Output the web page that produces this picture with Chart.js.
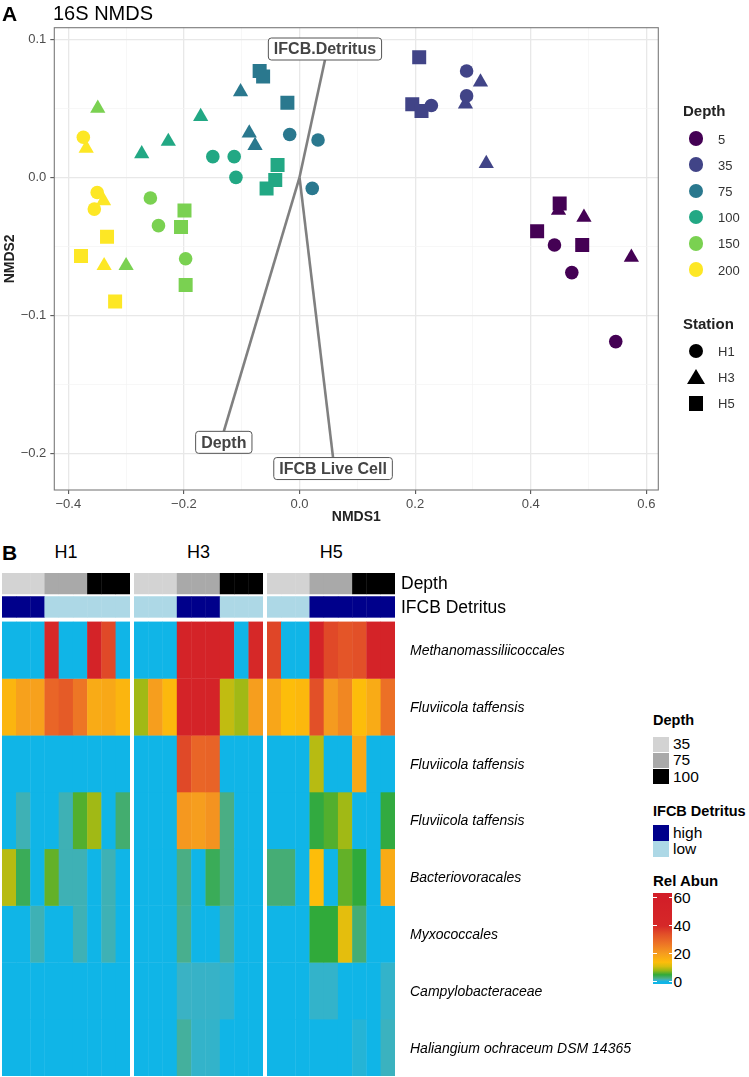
<!DOCTYPE html>
<html>
<head>
<meta charset="utf-8">
<script src="https://cdn.jsdelivr.net/npm/chart.js@4.4.0/dist/chart.umd.min.js"></script>
<style>
  body { margin: 0; background: #fff; }
  #wrap { position: relative; width: 749px; height: 1077px; overflow: hidden; background: #fff;
          font-family: "Liberation Sans", Arial, Helvetica, sans-serif; }
  canvas { position: absolute; }
  .txt { position: absolute; white-space: nowrap; line-height: 1; color: #000; }
  .shape { position: absolute; }
</style>
</head>
<body>
<div id="wrap">
  <canvas id="nmds" width="749" height="530" style="left:0;top:0"></canvas>
  <canvas id="hmH1" width="128" height="503" style="left:2px;top:573px"></canvas>
  <canvas id="hmH3" width="129" height="503" style="left:134px;top:573px"></canvas>
  <canvas id="hmH5" width="382" height="503" style="left:267px;top:573px"></canvas>
</div>
<script>
// ---------- Panel A : 16S NMDS ----------
const depthLevels = [5, 35, 75, 100, 150, 200];
const stationNames = ['H1', 'H3', 'H5'];

const h1Depth = [5, 5, 5, 35, 35, 35, 75, 75, 75, 100, 100, 100, 150, 150, 150, 200, 200, 200];
const h1NMDS1 = [0.441, 0.471, 0.547, 0.289, 0.289, 0.228, -0.017, 0.032, 0.022, -0.150, -0.113, -0.110, -0.258, -0.244, -0.197, -0.374, -0.350, -0.355];
const h1NMDS2 = [-0.049, -0.069, -0.119, 0.077, 0.059, 0.052, 0.031, 0.027, -0.008, 0.015, 0.015, 0.000, -0.015, -0.035, -0.059, 0.029, -0.011, -0.023];

const h3Depth = [5, 5, 5, 35, 35, 35, 75, 75, 75, 100, 100, 100, 150, 150, 200, 200, 200];
const h3NMDS1 = [0.448, 0.492, 0.574, 0.313, 0.287, 0.323, -0.102, -0.087, -0.077, -0.171, -0.227, -0.273, -0.349, -0.300, -0.369, -0.339, -0.338];
const h3NMDS2 = [-0.024, -0.029, -0.058, 0.069, 0.053, 0.010, 0.062, 0.032, 0.023, 0.044, 0.026, 0.017, 0.050, -0.064, 0.021, -0.017, -0.064];

const h5Depth = [5, 5, 5, 35, 35, 35, 75, 75, 75, 100, 100, 100, 150, 150, 150, 200, 200, 200];
const h5NMDS1 = [0.411, 0.450, 0.489, 0.207, 0.195, 0.211, -0.069, -0.063, -0.021, -0.038, -0.042, -0.057, -0.199, -0.205, -0.197, -0.333, -0.378, -0.319];
const h5NMDS2 = [-0.039, -0.019, -0.049, 0.087, 0.053, 0.048, 0.077, 0.073, 0.054, 0.009, -0.002, -0.008, -0.024, -0.036, -0.078, -0.043, -0.057, -0.090];

// envfit vectors
const envNames = ['IFCB.Detritus', 'Depth', 'IFCB Live Cell'];
const envNMDS1 = [0.044, -0.131, 0.058];
const envNMDS2 = [0.085, -0.184, -0.203];

const xTickVals = [-0.4, -0.3, -0.2, -0.1, 0, 0.1, 0.2, 0.3, 0.4, 0.5, 0.6];
const yTickVals = [-0.2, -0.15, -0.1, -0.05, 0, 0.05, 0.1];

// ---------- Panel B : heatmap ----------
const sampleDepth = [35, 35, 35, 75, 75, 75, 100, 100, 100];
const taxa = ['Methanomassiliicoccales', 'Fluviicola taffensis', 'Fluviicola taffensis', 'Fluviicola taffensis',
              'Bacteriovoracales', 'Myxococcales', 'Campylobacteraceae', 'Haliangium ochraceum DSM 14365'];
const annotNames = ['Depth', 'IFCB Detritus'];

const h1Detritus = ['high', 'high', 'high', 'low', 'low', 'low', 'low', 'low', 'low'];
const h3Detritus = ['low', 'low', 'low', 'high', 'high', 'high', 'low', 'low', 'low'];
const h5Detritus = ['low', 'low', 'low', 'high', 'high', 'high', 'high', 'high', 'high'];

const h1Abun = [
  [0, 0, 0, 41, 0, 0, 50, 35, 0],
  [15.5, 19.5, 19.5, 30, 32, 27, 17.5, 18, 15.5],
  [0, 0, 0, 0, 0, 0, 0, 0, 0],
  [0, 1.5, 0, 0, 1.5, 6, 8.5, 0, 3.2],
  [9.5, 4, 0, 6.5, 1.5, 1.5, 0, 1.5, 0],
  [0, 0, 1.5, 0, 0, 1.5, 0, 1.5, 0],
  [0, 0, 0, 0, 0, 0, 0, 0, 0],
  [0, 0, 0, 0, 0, 0, 0, 0, 0]
];
const h3Abun = [
  [0, 0, 0, 50, 50, 50, 49, 0, 41],
  [8.5, 20, 15, 50, 50, 50, 10, 8.5, 20],
  [0, 0, 0, 35, 30, 30.5, 0, 0, 0],
  [0, 0, 0, 21, 20, 22, 2.5, 0, 0],
  [0, 0, 0, 2.5, 0, 4, 2.5, 0, 0],
  [0, 0, 0, 2.3, 0, 0, 1.8, 0, 0],
  [0, 0, 0, 1.2, 1.1, 1.1, 0.9, 0, 0],
  [0, 0, 0, 2, 1, 1, 0, 0, 0]
];
const h5Abun = [
  [35.5, 0, 0, 50, 35, 33, 34, 50, 50],
  [18.5, 14, 15, 34, 20.5, 24, 14, 17.5, 28],
  [0, 0, 0, 9.5, 0, 0, 18, 0, 0],
  [0, 0, 0, 4.8, 6, 8.5, 0, 0, 4.8],
  [3, 3, 0, 14, 0, 6.5, 5, 0, 17.5],
  [0, 0, 0, 5, 5, 12, 3, 0, 0],
  [0, 0, 0, 1, 1, 0, 0, 0, 1],
  [0, 0, 0, 0, 0, 0, 0.6, 0, 1.3]
];
const abunTicks = [0, 20, 40, 60];

// ---------- styles ----------
const FONT = '"Liberation Sans", Arial, Helvetica, sans-serif';
Chart.defaults.font.family = FONT;

const depthColors = ['#440154', '#414487', '#2A788E', '#22A884', '#7AD151', '#FDE725'];
const stationShapes = ['circle', 'triangle', 'rect'];
const shapeRadius = { circle: 6.8, triangle: 8.8, rect: 9.9 };
const depthGrays = { 35: '#d3d3d3', 75: '#a9a9a9', 100: '#000000' };
const detritusColors = { high: '#00008b', low: '#add8e6' };
const abunStops = [
  [0, [16, 181, 231]], [1.2, [58, 178, 196]], [2.5, [74, 174, 132]], [5, [48, 170, 58]],
  [8, [150, 184, 22]], [11, [215, 190, 14]], [14, [253, 189, 10]], [20, [246, 158, 30]],
  [28, [236, 112, 38]], [34, [226, 80, 40]], [40, [214, 40, 40]], [60, [210, 30, 40]]
];

function abunColor(v) {
  if (v <= abunStops[0][0]) return 'rgb(' + abunStops[0][1].join(',') + ')';
  for (let i = 1; i < abunStops.length; i++) {
    const [v1, c1] = abunStops[i];
    if (v <= v1) {
      const [v0, c0] = abunStops[i - 1];
      const t = (v - v0) / (v1 - v0);
      return 'rgb(' + c0.map((c, k) => Math.round(c + (c1[k] - c) * t)).join(',') + ')';
    }
  }
  return 'rgb(' + abunStops[abunStops.length - 1][1].join(',') + ')';
}

const isMajorX = v => Math.abs(Math.round(v * 10)) % 2 === 0;
const isMajorY = v => Math.abs(v * 10 - Math.round(v * 10)) < 1e-6;
const fmt = v => (v < -1e-9 ? '\u2212' : '') + Math.abs(v).toFixed(1);

// ---------- scatter ----------
function stationPoints(depth, x, y) {
  return x.map((v, i) => ({ x: v, y: y[i], d: depth[i] }));
}
const stationData = [[h1Depth, h1NMDS1, h1NMDS2], [h3Depth, h3NMDS1, h3NMDS2], [h5Depth, h5NMDS1, h5NMDS2]];

const pointSets = stationData.map((s, k) => ({
  label: stationNames[k],
  data: stationPoints(s[0], s[1], s[2]),
  pointStyle: stationShapes[k],
  pointRadius: shapeRadius[stationShapes[k]],
  pointHoverRadius: shapeRadius[stationShapes[k]],
  pointBackgroundColor: ctx => ctx.raw ? depthColors[depthLevels.indexOf(ctx.raw.d)] : '#000',
  pointBorderColor: ctx => ctx.raw ? depthColors[depthLevels.indexOf(ctx.raw.d)] : '#000',
  pointBorderWidth: 0,
  showLine: false,
  order: 2
}));

const envLines = envNames.map((n, i) => ({
  label: n,
  data: [{ x: 0, y: 0 }, { x: envNMDS1[i], y: envNMDS2[i] }],
  showLine: true,
  borderColor: '#808080',
  borderWidth: 2.6,
  pointRadius: 0,
  fill: false,
  order: 1
}));

const envLabelPlugin = {
  id: 'envLabels',
  afterDatasetsDraw(chart) {
    const { ctx, scales: { x, y } } = chart;
    ctx.save();
    ctx.font = 'bold 16px ' + FONT;
    ctx.textAlign = 'center';
    ctx.textBaseline = 'middle';
    envNames.forEach((name, i) => {
      const px = x.getPixelForValue(envNMDS1[i]);
      const py = y.getPixelForValue(envNMDS2[i]);
      const w = ctx.measureText(name).width + 11, h = 22;
      const top = envNMDS2[i] > 0 ? py - h : py;
      const left = px - w / 2;
      ctx.beginPath();
      ctx.roundRect(left, top, w, h, 3);
      ctx.fillStyle = '#fff';
      ctx.fill();
      ctx.lineWidth = 1;
      ctx.strokeStyle = '#555';
      ctx.stroke();
      ctx.fillStyle = '#444';
      ctx.fillText(name, px, top + h / 2 + 1);
    });
    ctx.restore();
  }
};

const panelBorder = {
  id: 'panelBorder',
  afterDraw(chart) {
    const a = chart.chartArea, ctx = chart.ctx;
    ctx.save();
    ctx.strokeStyle = '#7a7a7a';
    ctx.lineWidth = 1.1;
    ctx.strokeRect(a.left, a.top, a.right - a.left, a.bottom - a.top);
    ctx.restore();
  }
};

new Chart(document.getElementById('nmds'), {
  type: 'scatter',
  data: { datasets: [...envLines, ...pointSets] },
  options: {
    responsive: false,
    animation: false,
    events: [],
    layout: { padding: { left: 0, top: 27.7, right: 90.7, bottom: 0 } },
    plugins: { legend: { display: false }, tooltip: { enabled: false } },
    scales: {
      x: {
        type: 'linear', min: -0.4242, max: 0.6206,
        afterBuildTicks: s => { s.ticks = xTickVals.map(v => ({ value: v })); },
        afterFit: s => { s.height = 40; },
        border: { display: false },
        grid: {
          color: c => isMajorX(c.tick.value) ? '#e8e8e8' : '#f3f3f3',
          lineWidth: c => isMajorX(c.tick.value) ? 1.3 : 0.7,
          tickColor: c => isMajorX(c.tick.value) ? '#444' : 'rgba(0,0,0,0)',
          tickLength: 4, tickWidth: 1
        },
        ticks: {
          autoSkip: false, maxRotation: 0, padding: 3, color: '#4d4d4d',
          font: { size: 13 },
          callback: v => isMajorX(v) ? fmt(v) : ''
        },
        title: { display: true, text: 'NMDS1', color: '#222', font: { size: 14, weight: 'bold' }, padding: { top: 0, bottom: 4 } }
      },
      y: {
        type: 'linear', min: -0.2265, max: 0.1084,
        afterBuildTicks: s => { s.ticks = yTickVals.map(v => ({ value: v })); },
        afterFit: s => { s.width = 54.3; },
        border: { display: false },
        grid: {
          color: c => isMajorY(c.tick.value) ? '#e8e8e8' : '#f3f3f3',
          lineWidth: c => isMajorY(c.tick.value) ? 1.3 : 0.7,
          tickColor: c => isMajorY(c.tick.value) ? '#444' : 'rgba(0,0,0,0)',
          tickLength: 4, tickWidth: 1
        },
        ticks: {
          autoSkip: false, padding: 4, color: '#4d4d4d',
          font: { size: 13 },
          callback: v => isMajorY(v) ? fmt(v) : ''
        },
        title: { display: true, text: 'NMDS2', color: '#222', font: { size: 14, weight: 'bold' }, padding: { top: 1.6, bottom: 0 } }
      }
    }
  },
  plugins: [envLabelPlugin, panelBorder]
});

// ---------- heatmaps ----------
const band = { depth: [8.488, 8.859], detritus: [8.076, 8.446], top: 8.859 };

const rowNamePlugin = {
  id: 'rowNames',
  afterDraw(chart) {
    const { ctx, chartArea, scales: { y } } = chart;
    ctx.save();
    ctx.fillStyle = '#000';
    ctx.textAlign = 'left';
    ctx.textBaseline = 'middle';
    ctx.font = '17.5px ' + FONT;
    ctx.fillText(annotNames[0], chartArea.right + 6, y.getPixelForValue((band.depth[0] + band.depth[1]) / 2) + 1);
    ctx.fillText(annotNames[1], chartArea.right + 6, y.getPixelForValue((band.detritus[0] + band.detritus[1]) / 2) + 1);
    ctx.font = 'italic 14px ' + FONT;
    taxa.forEach((t, i) => ctx.fillText(t, chartArea.right + 15, y.getPixelForValue(7.5 - i) + 1));
    ctx.restore();
  }
};

function heatmapChart(id, abun, detritus, withNames, padRight) {
  const cellStyle = { borderWidth: 0, inflateAmount: 0.2, grouped: false, barPercentage: 1, categoryPercentage: 1 };
  const datasets = [
    Object.assign({ data: sampleDepth.map(() => band.depth), backgroundColor: sampleDepth.map(d => depthGrays[d]) }, cellStyle),
    Object.assign({ data: detritus.map(() => band.detritus), backgroundColor: detritus.map(v => detritusColors[v]) }, cellStyle)
  ];
  abun.forEach((row, i) => {
    datasets.push(Object.assign({ data: row.map(() => [7 - i, 8 - i]), backgroundColor: row.map(abunColor) }, cellStyle));
  });
  return new Chart(document.getElementById(id), {
    type: 'bar',
    data: { labels: sampleDepth.map((d, i) => 'S' + (i + 1)), datasets: datasets },
    options: {
      responsive: false,
      animation: false,
      events: [],
      layout: { padding: { left: 0, right: padRight, top: 0, bottom: 0 } },
      plugins: { legend: { display: false }, tooltip: { enabled: false } },
      scales: {
        x: { display: false },
        y: { display: false, min: 0, max: band.top }
      }
    },
    plugins: withNames ? [rowNamePlugin] : []
  });
}

heatmapChart('hmH1', h1Abun, h1Detritus, false, 0);
heatmapChart('hmH3', h3Abun, h3Detritus, false, 0);
heatmapChart('hmH5', h5Abun, h5Detritus, true, 254);

// ---------- text, legends ----------
const wrap = document.getElementById('wrap');
function addText(txt, x, y, css, center) {
  const el = document.createElement('div');
  el.className = 'txt';
  el.textContent = txt;
  el.style.cssText = 'left:' + x + 'px;top:' + y + 'px;' + css;
  el.style.transform = center ? 'translate(-50%,-50%)' : 'translateY(-50%)';
  wrap.appendChild(el);
}
function addBox(x, y, w, h, css) {
  const el = document.createElement('div');
  el.className = 'shape';
  el.style.cssText = 'left:' + x + 'px;top:' + y + 'px;width:' + w + 'px;height:' + h + 'px;' + css;
  wrap.appendChild(el);
}
function addShape(shape, cx, cy, color) {
  if (shape === 'circle') addBox(cx - 7.3, cy - 7.3, 14.6, 14.6, 'border-radius:50%;background:' + color);
  else if (shape === 'rect') addBox(cx - 7.3, cy - 7.3, 14.6, 14.6, 'background:' + color);
  else addBox(cx - 9, cy - 8.5, 0, 0, 'border-left:9px solid transparent;border-right:9px solid transparent;border-bottom:15.6px solid ' + color);
}

// panel A
addText('A', 2, 13, 'font-weight:bold;font-size:21px;');
addText('16S NMDS', 53, 13, 'font-size:20px;');
addText('Depth', 683, 110, 'font-weight:bold;font-size:15px;color:#222;');
depthLevels.forEach((d, i) => {
  addShape('circle', 696, 138.5 + i * 26.2, depthColors[i]);
  addText(String(d), 718, 138.5 + i * 26.2, 'font-size:13px;color:#333;');
});
addText('Station', 683, 323, 'font-weight:bold;font-size:15px;color:#222;');
stationNames.forEach((s, i) => {
  addShape(stationShapes[i], 696, 351 + i * 26.2, '#000');
  addText(s, 718, 351 + i * 26.2, 'font-size:13px;color:#333;');
});

// panel B
addText('B', 2, 552, 'font-weight:bold;font-size:21px;');
[[stationNames[0], 66], [stationNames[1], 198.5], [stationNames[2], 331.3]].forEach(t => addText(t[0], t[1], 552, 'font-size:18px;', true));

addText('Depth', 653, 720, 'font-weight:bold;font-size:14.5px;');
[35, 75, 100].forEach((d, i) => {
  addBox(653, 736.5 + i * 16.2, 15.5, 15.5, 'background:' + depthGrays[d]);
  addText(String(d), 673, 744.2 + i * 16.2, 'font-size:15.5px;');
});
addText('IFCB Detritus', 653, 811, 'font-weight:bold;font-size:14.5px;');
['high', 'low'].forEach((v, i) => {
  addBox(653, 825 + i * 16.2, 15.5, 15.5, 'background:' + detritusColors[v]);
  addText(v, 673, 832.7 + i * 16.2, 'font-size:15.5px;');
});
addText('Rel Abun', 653, 880, 'font-weight:bold;font-size:15px;');

// colour bar: 0 at y=981.7, 1.4 px per unit, drawn bottom (low) to top (high)
const barTopVal = 63.6, barBotVal = -1.6, barTop = 892.7, pxPerUnit = 1.4;
const pct = v => ((v - barBotVal) / (barTopVal - barBotVal) * 100).toFixed(2) + '%';
const gradStops = [abunColor(barBotVal) + ' 0%']
  .concat(abunStops.map(s => abunColor(s[0]) + ' ' + pct(s[0])))
  .concat([abunColor(barTopVal) + ' 100%']);
addBox(653, barTop, 19, (barTopVal - barBotVal) * pxPerUnit,
  'background:linear-gradient(to top, ' + gradStops.join(', ') + ');');
abunTicks.forEach(t => {
  const yy = 981.7 - t * pxPerUnit;
  addBox(653, yy - 0.6, 3.5, 1.2, 'background:#fff;');
  addBox(668.5, yy - 0.6, 3.5, 1.2, 'background:#fff;');
  addText(String(t), 673.5, yy, 'font-size:15.5px;');
});
</script>
</body>
</html>
